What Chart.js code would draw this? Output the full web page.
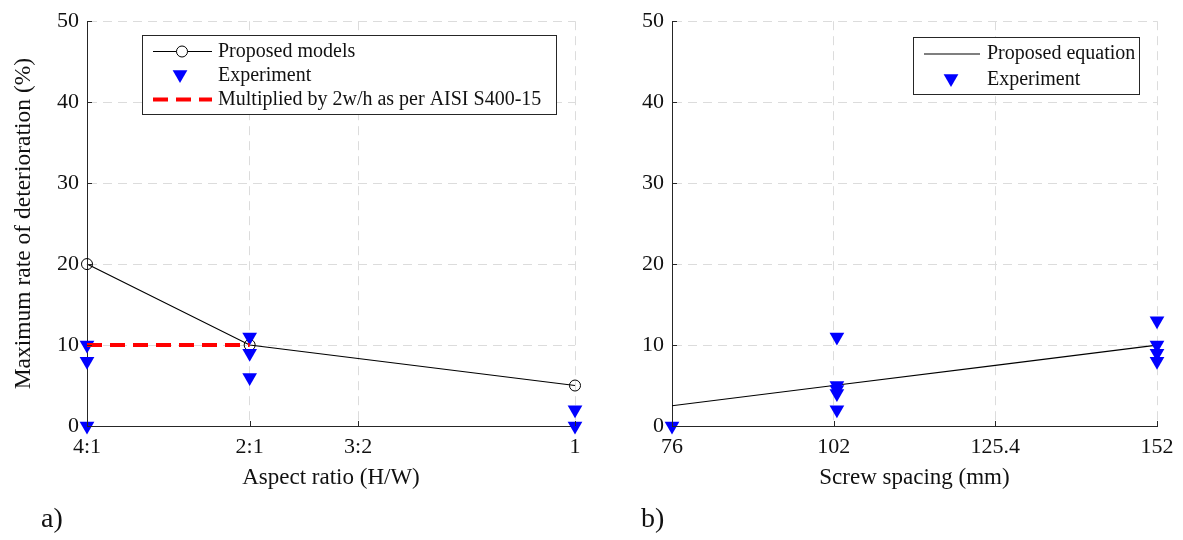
<!DOCTYPE html>
<html>
<head>
<meta charset="utf-8">
<script src="https://cdn.jsdelivr.net/npm/chart.js@4.4.0/dist/chart.umd.min.js"></script>
<style>
  body { margin: 0; background: #fff; }
  #wrap { position: relative; width: 1183px; height: 540px; overflow: hidden; }
  #left { position: absolute; left: 0; top: 0; }
  #right { position: absolute; left: 595px; top: 0; }
  .tag { position: absolute; top: 502px; font: 28px "Liberation Serif", "Times New Roman", serif; color: #111; }
</style>
</head>
<body>
<div id="wrap">
  <canvas id="left" width="595" height="540"></canvas>
  <canvas id="right" width="588" height="540"></canvas>
  <div class="tag" style="left:41px">a)</div>
  <div class="tag" style="left:641px">b)</div>
</div>
<script>
// panel a) - aspect ratio H/W, plotted on W/H
const aspectTickRatios = [4, 2, 1.5, 1];
const aspectTickLabels = ['4:1', '2:1', '3:2', '1'];
const modelRatios = [4, 2, 1];
const proposedModels = [20, 10, 5];
const aisiRatios = [4, 2];
const aisiValues = [10, 10];
const expAspectRatios = [4, 4, 4, 2, 2, 2, 1, 1];
const expAspectValues = [10, 8, 0, 11, 9, 6, 2, 0];

// panel b) - screw spacing, ticks evenly spaced
const screwTickLabels = ['76', '102', '125.4', '152'];
const screwPos = [0, 1, 2, 3];
const proposedEquation = [2.5, 5, 7.5, 10];
const expScrewPos = [0, 1.02, 1.02, 1.02, 1.02, 1.02, 3, 3, 3, 3];
const expScrewValues = [0, 11, 5, 4.5, 4, 2, 13, 10, 9, 8];

const FONT = '"Liberation Serif", "Times New Roman", serif';
const AXIS = '#262626';
const GRID = '#dcdcdc';
const TRI = 8.5;

function pts(xs, ys, fx) {
  return xs.map((x, i) => ({ x: fx ? fx(x) : x, y: ys[i] }));
}
const inv = r => 1 / r;

// small ticks pointing into the plot, like matlab
const innerTicks = {
  id: 'innerTicks',
  afterDatasetsDraw(chart) {
    const ctx = chart.ctx, x = chart.scales.x, y = chart.scales.y;
    ctx.save();
    ctx.strokeStyle = AXIS;
    ctx.lineWidth = 1;
    ctx.beginPath();
    x.ticks.forEach(t => {
      const px = Math.round(x.getPixelForValue(t.value)) + 0.5;
      ctx.moveTo(px, y.bottom); ctx.lineTo(px, y.bottom - 5);
    });
    y.ticks.forEach(t => {
      const py = Math.round(y.getPixelForValue(t.value)) + 0.5;
      ctx.moveTo(x.left, py); ctx.lineTo(x.left + 5, py);
    });
    ctx.stroke();
    ctx.restore();
  }
};

function tri(ctx, cx, cy, r) {
  ctx.beginPath();
  ctx.moveTo(cx, cy + r);
  ctx.lineTo(cx - r * Math.sqrt(3) / 2, cy - r / 2);
  ctx.lineTo(cx + r * Math.sqrt(3) / 2, cy - r / 2);
  ctx.closePath();
  ctx.fillStyle = '#0000ff';
  ctx.fill();
}

function boxLegend(box, rows) {
  return {
    id: 'boxLegend',
    afterDraw(chart) {
      const ctx = chart.ctx;
      ctx.save();
      ctx.fillStyle = '#fff';
      ctx.fillRect(box.x, box.y, box.w, box.h);
      ctx.strokeStyle = AXIS;
      ctx.lineWidth = 1;
      ctx.strokeRect(box.x + 0.5, box.y + 0.5, box.w, box.h);
      rows.forEach(r => {
        if (r.line) {
          ctx.beginPath();
          ctx.strokeStyle = r.line.color;
          ctx.lineWidth = r.line.width;
          ctx.setLineDash(r.line.dash || []);
          ctx.moveTo(box.lx1, r.y); ctx.lineTo(box.lx2, r.y);
          ctx.stroke();
          ctx.setLineDash([]);
        }
        if (r.circle) {
          ctx.beginPath();
          ctx.fillStyle = '#fff';
          ctx.strokeStyle = '#000';
          ctx.lineWidth = 1;
          ctx.arc(box.mx, r.y, 5.5, 0, Math.PI * 2);
          ctx.fill(); ctx.stroke();
        }
        if (r.tri) tri(ctx, box.mx - 2, r.y - 1, TRI);
        ctx.fillStyle = '#111';
        ctx.font = '20px ' + FONT;
        ctx.textBaseline = 'middle';
        ctx.fillText(r.text, box.tx, r.y);
      });
      ctx.restore();
    }
  };
}

function yScale(width, title) {
  return {
    min: 0, max: 50,
    afterFit: s => { s.width = width; },
    ticks: { stepSize: 10, padding: 8, color: '#111', font: { family: FONT, size: 22 } },
    grid: { color: GRID, drawTicks: false, lineWidth: 1 },
    border: { color: AXIS, width: 1, dash: [9, 6] },
    title: title ? { display: true, text: title, color: '#111', padding: { top: 10, bottom: 0 }, font: { family: FONT, size: 23.5 } } : { display: false }
  };
}

function xScale(min, max, values, labels, title) {
  return {
    type: 'linear', min: min, max: max,
    afterBuildTicks: s => { s.ticks = values.map(v => ({ value: v })); },
    afterFit: s => { s.height = 74; },
    ticks: { padding: 8, color: '#111', font: { family: FONT, size: 22 }, callback: (v, i) => labels[i] },
    grid: { color: GRID, drawTicks: false, lineWidth: 1 },
    border: { color: AXIS, width: 1, dash: [9, 6] },
    title: { display: true, text: title, color: '#111', padding: { top: 0, bottom: 8 }, font: { family: FONT, size: 23 } }
  };
}

const common = {
  responsive: false,
  animation: false,
  events: [],
  devicePixelRatio: 1,
  plugins: { legend: { display: false }, tooltip: { enabled: false } }
};

new Chart(document.getElementById('left'), {
  type: 'scatter',
  data: {
    datasets: [{
      data: pts(modelRatios, proposedModels, inv),
      showLine: true, borderColor: '#000', borderWidth: 1.2,
      pointStyle: 'circle', pointRadius: 5.5, pointBorderWidth: 1,
      pointBorderColor: '#000', pointBackgroundColor: 'rgba(0,0,0,0)',
      clip: false, order: 3
    }, {
      data: pts(expAspectRatios, expAspectValues, inv),
      pointStyle: 'triangle', rotation: 180, pointRadius: TRI,
      pointBackgroundColor: '#0000ff', pointBorderWidth: 0,
      clip: false, order: 2
    }, {
      data: pts(aisiRatios, aisiValues, inv),
      showLine: true, borderColor: '#ff0000', borderWidth: 4, borderDash: [15, 8],
      pointRadius: 0, clip: false, order: 1
    }]
  },
  options: Object.assign({}, common, {
    layout: { padding: { left: 0, right: 20, top: 16, bottom: 40 } },
    scales: {
      x: xScale(0.25, 1, aspectTickRatios.map(inv), aspectTickLabels, 'Aspect ratio (H/W)'),
      y: yScale(87, 'Maximum rate of deterioration (%)')
    }
  }),
  plugins: [innerTicks, boxLegend(
    { x: 142, y: 35, w: 414, h: 79, lx1: 153, lx2: 212, mx: 182, tx: 218 },
    [
      { y: 51.5, text: 'Proposed models', line: { color: '#000', width: 1.2 }, circle: true },
      { y: 75.5, text: 'Experiment', tri: true },
      { y: 99.5, text: 'Multiplied by 2w/h as per AISI S400-15', line: { color: '#ff0000', width: 4, dash: [15, 8] } }
    ])]
});

new Chart(document.getElementById('right'), {
  type: 'scatter',
  data: {
    datasets: [{
      data: pts(screwPos, proposedEquation),
      showLine: true, borderColor: '#000', borderWidth: 1.2,
      pointRadius: 0, clip: false, order: 2
    }, {
      data: pts(expScrewPos, expScrewValues),
      pointStyle: 'triangle', rotation: 180, pointRadius: TRI,
      pointBackgroundColor: '#0000ff', pointBorderWidth: 0,
      clip: false, order: 1
    }]
  },
  options: Object.assign({}, common, {
    layout: { padding: { left: 0, right: 26, top: 16, bottom: 40 } },
    scales: {
      x: xScale(0, 3, screwPos, screwTickLabels, 'Screw spacing (mm)'),
      y: yScale(77, null)
    }
  }),
  plugins: [innerTicks, boxLegend(
    { x: 318, y: 37, w: 226, h: 57, lx1: 329, lx2: 385, mx: 358, tx: 392 },
    [
      { y: 54, text: 'Proposed equation', line: { color: '#000', width: 1.2 } },
      { y: 79.5, text: 'Experiment', tri: true }
    ])]
});
</script>
</body>
</html>
